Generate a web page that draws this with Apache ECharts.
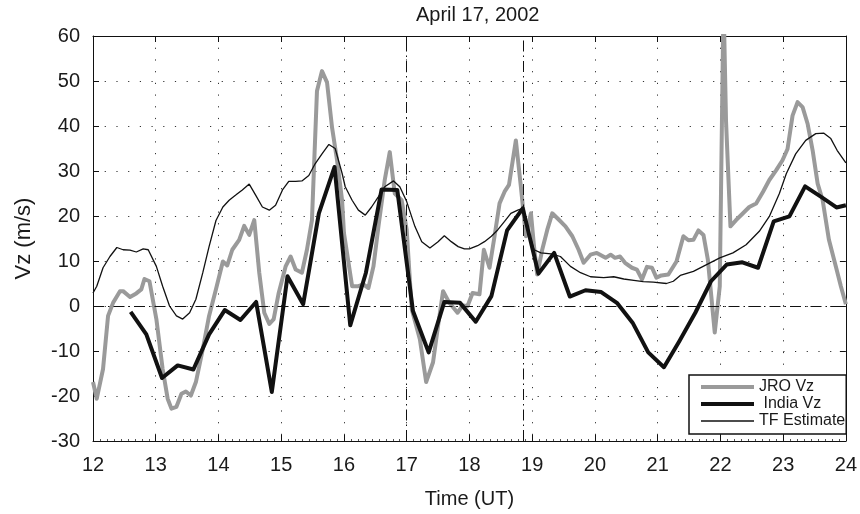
<!DOCTYPE html>
<html>
<head>
<meta charset="utf-8">
<script src="https://cdn.jsdelivr.net/npm/echarts@6/dist/echarts.min.js"></script>
<style>
  html, body { margin: 0; padding: 0; background: #fff; }
  #main { width: 860px; height: 514px; }
</style>
</head>
<body>
<div id="main"></div>
<script>
// JRO Vz (grey, thick)
var jroTime = [12.00, 12.06, 12.16, 12.24, 12.32, 12.43, 12.48, 12.59, 12.69, 12.77, 12.82, 12.90,
  13.01, 13.11, 13.19, 13.25, 13.33, 13.41, 13.48, 13.56, 13.64, 13.75, 13.85, 13.96,
  14.07, 14.14, 14.22, 14.33, 14.41, 14.49, 14.57, 14.65, 14.73, 14.81, 14.88, 14.96,
  15.07, 15.15, 15.23, 15.33, 15.41, 15.49, 15.57, 15.65, 15.73, 15.81, 15.89, 15.97,
  16.00, 16.13, 16.23, 16.31, 16.39, 16.47, 16.55, 16.65, 16.73, 16.81, 16.92, 17.00,
  17.08, 17.21, 17.31, 17.42, 17.50, 17.58, 17.68, 17.81, 17.89, 17.97, 18.05, 18.16,
  18.23, 18.32, 18.40, 18.48, 18.56, 18.63, 18.74, 18.82, 18.90, 18.98, 19.03, 19.08,
  19.16, 19.24, 19.32, 19.43, 19.53, 19.64, 19.74, 19.82, 19.93, 20.03, 20.17, 20.25,
  20.32, 20.40, 20.48, 20.59, 20.67, 20.75, 20.83, 20.91, 20.98, 21.06, 21.17, 21.30,
  21.41, 21.49, 21.57, 21.65, 21.73, 21.80, 21.88, 21.91, 21.99, 22.05, 22.09, 22.16,
  22.25, 22.36, 22.46, 22.57, 22.68, 22.78, 22.89, 22.99, 23.07, 23.15, 23.23, 23.31,
  23.39, 23.47, 23.55, 23.63, 23.73, 23.84, 23.92, 24.00];
var jroVz = [-16.9, -20.6, -14.0, -2.2, 0.7, 3.3, 3.3, 2.0, 2.8, 3.7, 6.0, 5.5,
  -2.9, -14.0, -20.6, -22.8, -22.4, -19.5, -19.0, -19.9, -16.9, -9.6, -2.2, 3.7,
  9.9, 9.0, 12.5, 14.7, 17.8, 15.8, 19.1, 7.4, -1.5, -4.0, -2.9, 2.9,
  8.8, 11.0, 8.1, 7.4, 12.5, 19.1, 47.8, 52.2, 49.7, 39.7, 32.4, 23.5,
  16.2, 4.4, 4.4, 4.8, 4.0, 8.8, 17.7, 28.0, 34.2, 25.0, 23.5, 16.9,
  -0.7, -7.4, -16.9, -12.5, -4.4, 3.3, 0.7, -1.5, 0.1, 0.0, 2.9, 2.6,
  12.5, 8.5, 15.5, 22.8, 25.4, 26.9, 36.8, 26.5, 15.5, 20.6, 13.2, 7.0,
  12.5, 16.9, 20.6, 19.1, 17.7, 15.5, 12.5, 9.6, 11.4, 11.8, 10.7, 11.4,
  10.7, 11.0, 9.6, 8.5, 8.1, 5.9, 8.7, 8.5, 6.3, 6.8, 7.0, 9.9,
  15.5, 14.6, 14.7, 16.8, 15.8, 10.3, -1.5, -5.9, 4.4, 68.0, 41.0, 17.7,
  19.1, 20.6, 22.0, 22.8, 25.4, 28.0, 30.2, 32.4, 34.9, 42.3, 45.3, 44.2,
  40.5, 34.6, 27.2, 23.5, 14.7, 8.8, 4.4, 0.4];

// India Vz (black, thick)
var indiaTime = [12.60, 12.85, 13.10, 13.35, 13.60, 13.85, 14.10, 14.35, 14.60, 14.85,
  15.10, 15.35, 15.60, 15.85, 16.10, 16.35, 16.60, 16.85, 17.10, 17.35,
  17.60, 17.85, 18.10, 18.35, 18.60, 18.85, 19.10, 19.35, 19.60, 19.85,
  20.10, 20.35, 20.60, 20.85, 21.10, 21.35, 21.60, 21.85, 22.10, 22.35,
  22.60, 22.85, 23.10, 23.35, 23.60, 23.85, 24.00];
var indiaVz = [-1.3, -6.3, -16.0, -13.2, -14.1, -6.3, -0.9, -3.1, 0.9, -19.1,
  6.6, 0.4, 20.6, 30.9, -4.3, 7.4, 25.9, 25.8, -1.1, -10.3,
  0.9, 0.7, -3.5, 2.2, 16.8, 21.7, 7.2, 11.8, 2.1, 3.5,
  3.1, 0.7, -3.7, -10.3, -13.6, -7.7, -1.5, 5.5, 9.2, 9.7,
  8.5, 18.8, 19.9, 26.6, 24.3, 21.9, 22.4];

// TF Estimate (black, thin)
var tfTime = [12.00, 12.06, 12.16, 12.27, 12.38, 12.48, 12.59, 12.69, 12.80, 12.88,
  13.01, 13.11, 13.22, 13.33, 13.43, 13.54, 13.64, 13.75, 13.85, 13.96,
  14.07, 14.17, 14.28, 14.38, 14.49, 14.59, 14.70, 14.81, 14.91, 15.02,
  15.12, 15.23, 15.33, 15.44, 15.54, 15.65, 15.76, 15.86, 15.92, 15.97,
  16.02, 16.13, 16.23, 16.34, 16.44, 16.55, 16.65, 16.79, 16.89, 17.00,
  17.13, 17.24, 17.37, 17.50, 17.60, 17.71, 17.82, 17.92, 18.00, 18.13,
  18.24, 18.35, 18.45, 18.56, 18.66, 18.77, 18.85, 18.95, 19.03, 19.14,
  19.30, 19.45, 19.61, 19.77, 19.93, 20.14, 20.30, 20.46, 20.62, 20.77,
  20.93, 21.14, 21.25, 21.36, 21.57, 21.78, 21.99, 22.20, 22.41, 22.62,
  22.78, 22.94, 23.05, 23.20, 23.36, 23.52, 23.65, 23.76, 23.86, 24.00];
var tfVz = [2.9, 4.4, 8.5, 11.0, 13.0, 12.5, 12.4, 12.0, 12.7, 12.5,
  8.8, 4.4, 0.0, -2.2, -2.9, -1.5, 1.5, 7.4, 13.2, 19.0,
  22.0, 23.5, 24.7, 25.8, 27.1, 24.7, 22.0, 21.3, 22.4, 25.8,
  27.7, 27.7, 27.8, 29.0, 31.6, 33.8, 35.9, 35.0, 32.0, 29.5,
  26.5, 23.5, 21.3, 20.2, 22.0, 24.3, 26.5, 27.8, 26.5, 23.2,
  17.7, 14.3, 12.9, 14.3, 15.6, 14.3, 13.2, 12.7, 12.7, 13.4,
  14.3, 15.5, 16.9, 18.8, 20.6, 21.3, 21.7, 16.2, 12.5, 11.8,
  11.6, 11.0, 8.8, 7.4, 6.5, 6.3, 6.5, 6.0, 5.7, 5.4,
  5.3, 5.0, 5.5, 6.8, 7.7, 9.2, 10.7, 11.8, 13.6, 16.6,
  19.9, 25.0, 29.4, 33.8, 36.8, 38.3, 38.4, 37.2, 34.6, 31.8];

// reference lines (dash-dot)
var markTimes = [17.0, 18.85];
var markVz = [0];

function pairs(xs, ys) {
  var out = [];
  for (var i = 0; i < xs.length; i++) {
    out.push([xs[i], ys[i]]);
  }
  return out;
}

var font = "'Liberation Sans', Arial, sans-serif";
var txt = "#1a1a1a";
var dashDot = [11, 4, 1.5, 4];

var markData = [];
for (var i = 0; i < markTimes.length; i++) {
  markData.push({ xAxis: markTimes[i] });
}
for (var j = 0; j < markVz.length; j++) {
  markData.push({ yAxis: markVz[j] });
}

const myChart = echarts.init(document.getElementById("main"));

var option = {
  animation: false,
  backgroundColor: "#fff",
  title: {
    text: "April 17, 2002",
    left: 416,
    top: 5,
    padding: 0,
    textStyle: { fontFamily: font, fontSize: 20, fontWeight: "normal", color: txt },
  },
  grid: {
    left: 93,
    right: 11,
    top: 36,
    bottom: 72,
  },
  legend: {
    orient: "vertical",
    left: 689,
    top: 375,
    padding: [4, 1, 5, 10],
    itemGap: 1,
    itemWidth: 53,
    itemHeight: 10,
    backgroundColor: "#fff",
    borderColor: "#111",
    borderWidth: 1.5,
    borderRadius: 0,
    itemStyle: { opacity: 0 },
    lineStyle: { width: "inherit" },
    textStyle: { fontFamily: font, fontSize: 16, color: txt, lineHeight: 16 },
    data: ["JRO Vz", " India Vz", "TF Estimate"],
  },
  xAxis: [
    {
      type: "value",
      min: 12,
      max: 24,
      interval: 1,
      name: "Time (UT)",
      nameLocation: "middle",
      nameGap: 48,
      nameTextStyle: { fontFamily: font, fontSize: 20, color: txt },
      axisLine: { onZero: false, lineStyle: { color: "#111", width: 1 } },
      axisTick: { inside: true, length: 6, lineStyle: { color: "#111" } },
      minorTick: { show: true, splitNumber: 9, length: 2, lineStyle: { color: "#555" } },
      axisLabel: { margin: 14, fontFamily: font, fontSize: 20, color: txt },
      splitLine: { show: true, lineStyle: { color: "#333", width: 1, type: [1.2, 10.5] } },
    },
    {
      type: "value",
      position: "top",
      min: 12,
      max: 24,
      interval: 1,
      axisLine: { onZero: false, lineStyle: { color: "#111", width: 1 } },
      axisTick: { inside: true, length: 6, lineStyle: { color: "#111" } },
      axisLabel: { show: false },
      splitLine: { show: false },
    },
  ],
  yAxis: [
    {
      type: "value",
      min: -30,
      max: 60,
      interval: 10,
      name: "Vz (m/s)",
      nameLocation: "middle",
      nameGap: 58,
      nameTextStyle: { fontFamily: font, fontSize: 22, color: txt },
      axisLine: { show: true, onZero: false, lineStyle: { color: "#111", width: 1 } },
      axisTick: { show: true, inside: true, length: 6, lineStyle: { color: "#111" } },
      axisLabel: { margin: 13, fontFamily: font, fontSize: 20, color: txt },
      splitLine: { show: true, lineStyle: { color: "#333", width: 1, type: [1.2, 10.5] } },
    },
    {
      type: "value",
      position: "right",
      min: -30,
      max: 60,
      interval: 10,
      axisLine: { show: true, onZero: false, lineStyle: { color: "#111", width: 1 } },
      axisTick: { show: true, inside: true, length: 6, lineStyle: { color: "#111" } },
      axisLabel: { show: false },
      splitLine: { show: false },
    },
  ],
  series: [
    {
      name: "JRO Vz",
      type: "line",
      symbol: "none",
      clip: true,
      data: pairs(jroTime, jroVz),
      lineStyle: { color: "#9a9a9a", width: 4, join: "round" },
      itemStyle: { color: "#9a9a9a" },
      markLine: {
        silent: true,
        symbol: "none",
        label: { show: false },
        lineStyle: { color: "#111", width: 1, type: dashDot },
        data: markData,
      },
    },
    {
      name: " India Vz",
      type: "line",
      symbol: "none",
      data: pairs(indiaTime, indiaVz),
      lineStyle: { color: "#111", width: 4, join: "round" },
      itemStyle: { color: "#111" },
    },
    {
      name: "TF Estimate",
      type: "line",
      symbol: "none",
      data: pairs(tfTime, tfVz),
      lineStyle: { color: "#111", width: 1.3 },
      itemStyle: { color: "#111" },
    },
  ],
};
myChart.setOption(option);
</script>
</body>
</html>
